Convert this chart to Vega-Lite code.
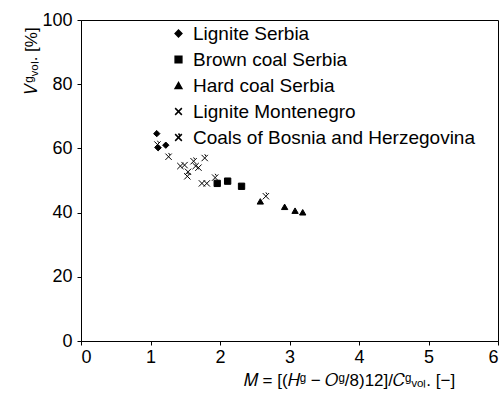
{
  "$schema": "https://vega.github.io/schema/vega-lite/v6.json",
  "width": 417,
  "height": 321,
  "autosize": {"type": "none"},
  "padding": {"left": 81, "top": 20, "right": 3, "bottom": 52},
  "background": "white",
  "config": {
    "view": {"stroke": "black", "strokeWidth": 1},
    "font": "Liberation Sans",
    "axis": {
      "grid": false,
      "domainColor": "black",
      "tickColor": "black",
      "tickSize": 4,
      "labelColor": "black",
      "labelFont": "Liberation Sans",
      "labelFontSize": 18,
      "titleColor": "black",
      "titleFont": "Liberation Sans",
      "titleFontSize": 17,
      "titleFontWeight": "normal"
    },
    "legend": {
      "labelFont": "Liberation Sans",
      "labelFontSize": 19,
      "labelColor": "black",
      "labelLimit": 400
    }
  },
  "data": {
    "values": [
      {"M": 1.09, "V": 64.6, "coal": "Lignite Serbia"},
      {"M": 1.22, "V": 61.0, "coal": "Lignite Serbia"},
      {"M": 1.11, "V": 60.2, "coal": "Lignite Serbia"},
      {"M": 1.96, "V": 49.1, "coal": "Brown coal Serbia"},
      {"M": 2.11, "V": 49.8, "coal": "Brown coal Serbia"},
      {"M": 2.31, "V": 48.2, "coal": "Brown coal Serbia"},
      {"M": 2.58, "V": 43.5, "coal": "Hard coal Serbia"},
      {"M": 2.93, "V": 41.8, "coal": "Hard coal Serbia"},
      {"M": 3.08, "V": 40.6, "coal": "Hard coal Serbia"},
      {"M": 3.19, "V": 40.1, "coal": "Hard coal Serbia"},
      {"M": 1.43, "V": 54.5, "coal": "Lignite Montenegro"},
      {"M": 1.49, "V": 54.8, "coal": "Lignite Montenegro"},
      {"M": 1.65, "V": 54.5, "coal": "Lignite Montenegro"},
      {"M": 1.69, "V": 54.0, "coal": "Lignite Montenegro"},
      {"M": 1.54, "V": 52.7, "coal": "Lignite Montenegro"},
      {"M": 1.74, "V": 49.1, "coal": "Lignite Montenegro"},
      {"M": 1.81, "V": 49.1, "coal": "Lignite Montenegro"},
      {"M": 1.10, "V": 61.2, "coal": "Coals of Bosnia and Herzegovina"},
      {"M": 1.26, "V": 57.4, "coal": "Coals of Bosnia and Herzegovina"},
      {"M": 1.53, "V": 51.3, "coal": "Coals of Bosnia and Herzegovina"},
      {"M": 1.62, "V": 56.0, "coal": "Coals of Bosnia and Herzegovina"},
      {"M": 1.78, "V": 57.0, "coal": "Coals of Bosnia and Herzegovina"},
      {"M": 1.93, "V": 50.9, "coal": "Coals of Bosnia and Herzegovina"},
      {"M": 2.66, "V": 45.1, "coal": "Coals of Bosnia and Herzegovina"}
    ]
  },
  "mark": {"type": "point", "filled": true, "color": "black", "stroke": "black", "strokeWidth": 1, "size": 40, "opacity": 1},
  "encoding": {
    "x": {
      "field": "M", "type": "quantitative",
      "scale": {"domain": [0, 6], "nice": false},
      "axis": {
        "values": [0, 1, 2, 3, 4, 5, 6],
        "labelPadding": 3,
        "title": "𝑀 = [(𝐻ᵍ − 𝑂ᵍ/8)12]/𝐶ᵍᵥₒₗ.  [−]",
        "titleX": 268, "titleY": 39,
        "titleAlign": "center",
        "titleBaseline": "middle"
      }
    },
    "y": {
      "field": "V", "type": "quantitative",
      "scale": {"domain": [0, 100], "nice": false},
      "axis": {
        "values": [0, 20, 40, 60, 80, 100],
        "labelPadding": 5,
        "title": "𝑉ᵍᵥₒₗ.  [%]",
        "titleAngle": -90,
        "titleX": -50, "titleY": 40,
        "titleAlign": "center",
        "titleBaseline": "middle"
      }
    },
    "shape": {
      "field": "coal", "type": "nominal",
      "scale": {
        "domain": ["Lignite Serbia", "Brown coal Serbia", "Hard coal Serbia", "Lignite Montenegro", "Coals of Bosnia and Herzegovina"],
        "range": ["diamond", "square", "triangle-up", "M-1,-1L1,1M1,-1L-1,1", "M-1,-1L1,1M1,-1L-1,1M0,-1.2L0.4,-0.6"]
      },
      "legend": {
        "title": null,
        "orient": "none",
        "legendX": 88,
        "legendY": 4,
        "padding": 0,
        "rowPadding": 6,
        "labelOffset": 5,
        "symbolSize": 45,
        "labelLimit": 400,
        "encode": {
          "symbols": {
            "update": {
              "stroke": {"value": "black"},
              "fill": {"value": "black"},
              "strokeWidth": {"value": 1},
              "opacity": {"value": 1}
            }
          }
        }
      }
    }
  }
}
